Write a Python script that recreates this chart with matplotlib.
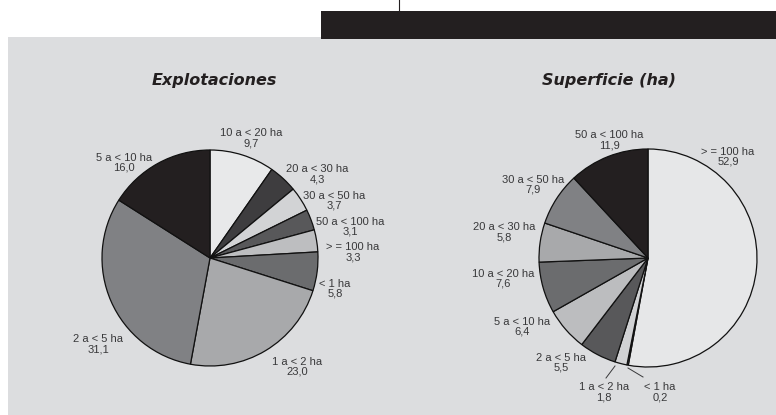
import matplotlib
matplotlib.use('Agg')
from matplotlib import pyplot as plt
from matplotlib.patches import Rectangle

# Explotaciones
expl_labels = ['10 a < 20 ha', '20 a < 30 ha', '30 a < 50 ha', '50 a < 100 ha',
               '> = 100 ha', '< 1 ha', '1 a < 2 ha', '2 a < 5 ha', '5 a < 10 ha']
expl_values = [9.7, 4.3, 3.7, 3.1, 3.3, 5.8, 23.0, 31.1, 16.0]

# Superficie (ha)
sup_labels = ['> = 100 ha', '< 1 ha', '1 a < 2 ha', '2 a < 5 ha', '5 a < 10 ha',
              '10 a < 20 ha', '20 a < 30 ha', '30 a < 50 ha', '50 a < 100 ha']
sup_values = [52.9, 0.2, 1.8, 5.5, 6.4, 7.6, 5.8, 7.9, 11.9]

expl_colors = ['#e8e9ea', '#3e3d3f', '#d2d3d5', '#58585a', '#bdbec0',
               '#6b6c6e', '#a8a9ab', '#808184', '#231f20']
sup_colors = ['#e6e7e8', '#f4f4f4', '#d1d2d4', '#58585a', '#bcbdbf',
              '#6b6c6e', '#a8a9ab', '#808184', '#231f20']

# label anchors in pixels (x, y from top)
expl_pos = [(251, 138), (317, 174), (334, 201), (350, 227), (353, 252),
            (335, 289), (297, 367), (98, 344), (124, 163)]
sup_pos = [(728, 157), (660, 392), (604, 392), (561, 363), (522, 327),
           (503, 279), (504, 232), (533, 185), (609, 140)]

W, H = 776, 415
fig = plt.figure(figsize=(W / 100, H / 100), dpi=100)
ax = fig.add_axes([0, 0, 1, 1])

def py(y):
    return H - y

# background panel, header bar, tick
ax.add_patch(Rectangle((8, 0), W - 8, py(37), facecolor='#dcdddf', edgecolor='none'))
ax.add_patch(Rectangle((321, py(39)), W - 321, 28, facecolor='#231f20', edgecolor='none'))
ax.plot([399, 399], [py(0), py(11)], color='#231f20', lw=0.8)

font = ['Liberation Sans', 'DejaVu Sans']
wp = dict(edgecolor='#111111', linewidth=0.9)

ax.pie(expl_values, colors=expl_colors, startangle=90, counterclock=False,
       center=(210, py(258)), radius=108, wedgeprops=wp, frame=True)
ax.pie(sup_values, colors=sup_colors, startangle=90, counterclock=False,
       center=(648, py(258)), radius=109, wedgeprops=wp, frame=True)
ax.set_xlim(0, W)
ax.set_ylim(0, H)
ax.set_aspect('equal')
ax.axis('off')

for lab, v, (x, y) in zip(expl_labels, expl_values, expl_pos):
    ax.text(x, py(y), lab + '\n' + f'{v:.1f}'.replace('.', ','), ha='center', va='center',
            fontsize=8, family=font, color='#38383a', linespacing=1.0)
for lab, v, (x, y) in zip(sup_labels, sup_values, sup_pos):
    ax.text(x, py(y), lab + '\n' + f'{v:.1f}'.replace('.', ','), ha='center', va='center',
            fontsize=8, family=font, color='#38383a', linespacing=1.0)

# leader lines for the two small slices
ax.plot([615, 606], [py(366), py(378)], color='#38383a', lw=0.7)
ax.plot([628, 643], [py(368), py(377)], color='#38383a', lw=0.7)

ax.text(214, py(81), 'Explotaciones', ha='center', va='center', fontsize=11.5,
        fontweight='bold', fontstyle='italic', family='DejaVu Sans', color='#231f20')
ax.text(609, py(81), 'Superficie (ha)', ha='center', va='center', fontsize=11.5,
        fontweight='bold', fontstyle='italic', family='DejaVu Sans', color='#231f20')

fig.savefig('out.png', dpi=100, facecolor='white')
